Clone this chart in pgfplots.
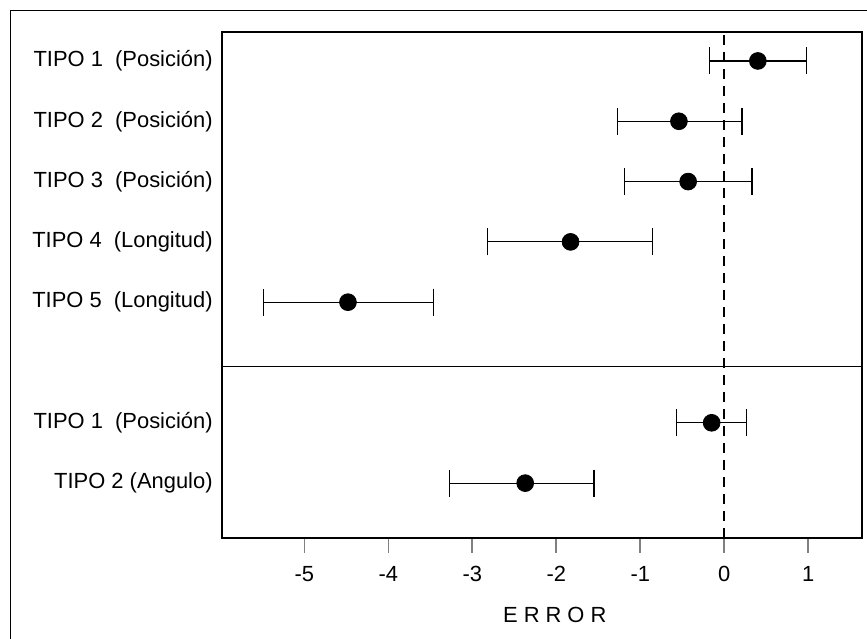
\documentclass[border=0pt]{standalone}
\usepackage{fontspec}
\setmainfont{Liberation Sans}
\usepackage{pgfplots}
\usepackage{pgfplotstable}
\pgfplotsset{compat=1.18}

% x = mean error, em/ep = lower/upper extent of the interval
\pgfplotstableread{
x     y  em    ep
0.40  8  0.58  0.58
-0.54 7  0.73  0.75
-0.43 6  0.76  0.76
-1.83 5  0.99  0.98
-4.48 4  1.01  1.02
-0.15 2  0.42  0.41
-2.37 1  0.90  0.82
}\errtipos

\begin{document}
\begin{tikzpicture}
\begin{axis}[
  scale only axis,
  width=320bp, height=253bp,
  xmin=-5.98, xmax=1.64,
  ymin=0.09, ymax=8.48,
  axis line style={line width=1bp},
  xtick={-5,-4,-3,-2,-1,0,1},
  xticklabels={-5,-4,-3,-2,-1,0,1},
  xtick pos=bottom,
  tick align=outside,
  major tick length=7.5bp,
  xtick style={line width=0.8bp},
  xticklabel style={font=\fontsize{11}{13}\selectfont, yshift=-3bp},
  ytick={8,7,6,5,4,2,1},
  yticklabels={TIPO 1\ \ (Posición), TIPO 2\ \ (Posición), TIPO 3\ \ (Posición),
               TIPO 4\ \ (Longitud), TIPO 5\ \ (Longitud), TIPO 1\ \ (Posición), TIPO 2\ (Angulo)},
  ytick style={draw=none},
  yticklabel style={font=\fontsize{11}{13}\selectfont, anchor=east, inner sep=0pt, xshift=3bp},
  xlabel={E\kern3bp R\kern3bp R\kern3bp O\kern3bp R},
  xlabel style={font=\fontsize{11}{13}\selectfont, at={(axis description cs:0.52,0)}, anchor=center, yshift=-38.5bp},
]
\draw[line width=0.8bp, dash pattern=on 5bp off 3.5bp] (axis cs:0,0.09) -- (axis cs:0,8.48);
\draw[line width=0.7bp] (axis cs:-5.98,2.93) -- (axis cs:1.64,2.93);
\addplot[only marks, mark=*, mark size=4.2bp, black,
  error bars/.cd, x dir=both, x explicit,
  error bar style={line width=0.6bp, black},
  error mark options={rotate=90, line width=0.6bp, mark size=6.75bp, black}]
  table[x=x, y=y, x error minus=em, x error plus=ep] {\errtipos};
\end{axis}
\pgfresetboundingbox
\path[use as bounding box] (-111bp,-50.5bp) rectangle (322.5bp,269bp);
\draw[line width=0.5bp] (-105.5bp,-50.5bp) -- (-105.5bp,263.5bp) -- (322.5bp,263.5bp);
\end{tikzpicture}
\end{document}
